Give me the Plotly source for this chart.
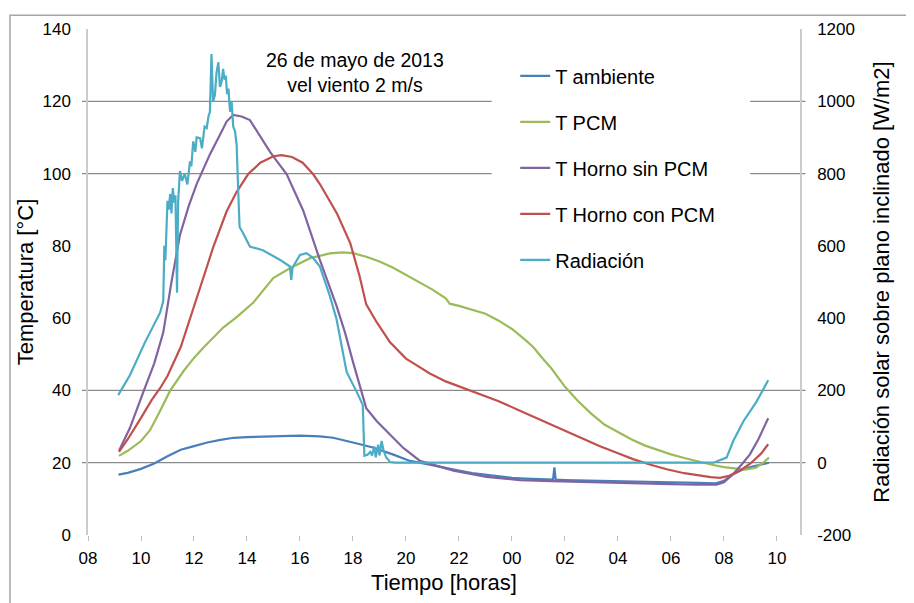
import plotly.graph_objects as go

# ---------------- data (hours since 00:00 of 26 May; >24 = next day) ----------------
amb_h = [9.15, 9.5, 10.0, 10.5, 11.0, 11.5, 12.0, 12.5, 13.0, 13.5, 14.0, 14.75, 15.5, 16.0,
         16.75, 17.25, 18.0, 18.75, 19.5, 20.15, 20.8, 21.4, 22.0, 22.5, 23.0, 23.5, 24.0, 24.5,
         25.0, 25.55, 25.6, 25.65, 26.0, 27.0, 28.0, 29.0, 30.0, 31.0, 31.7, 32.0, 32.3, 32.6,
         33.0, 33.4, 33.7]
amb_t = [16.7, 17.2, 18.3, 19.8, 21.8, 23.6, 24.6, 25.6, 26.3, 26.9, 27.1, 27.3, 27.4, 27.5,
         27.3, 26.9, 25.6, 24.2, 22.3, 20.5, 19.6, 18.6, 17.8, 17.1, 16.6, 16.2, 15.8, 15.6,
         15.4, 15.3, 18.7, 15.3, 15.2, 15.0, 15.0, 14.8, 14.6, 14.4, 14.3, 15.0, 16.6, 17.8,
         18.8, 19.5, 20.0]

pcm_h = [9.17, 9.5, 10.0, 10.34, 10.7, 11.09, 11.6, 12.0, 12.35, 12.7, 13.1, 13.6, 14.24, 14.99,
         15.62, 16.38, 17.13, 17.6, 18.0, 18.5, 19.0, 19.5, 20.0, 20.5, 21.0, 21.5, 21.65, 22.0,
         22.5, 23.0, 23.5, 24.0, 24.5, 24.8, 25.2, 25.5, 26.0, 26.5, 27.0, 27.5, 28.0, 28.5, 29.0,
         29.5, 30.0, 30.5, 31.0, 31.5, 32.0, 32.5, 32.8, 33.2, 33.45, 33.7]
pcm_t = [21.9, 23.3, 26.0, 29.0, 34.0, 39.8, 45.3, 49.0, 51.8, 54.5, 57.4, 60.2, 64.3, 71.1,
         73.8, 76.6, 77.9, 78.2, 78.0, 77.0, 75.7, 74.0, 72.0, 70.0, 67.9, 65.5, 64.0, 63.4,
         62.3, 61.2, 59.3, 57.0, 54.0, 52.0, 48.5, 46.0, 41.0, 37.0, 33.5, 30.5, 28.5, 26.5, 24.8,
         23.5, 22.3, 21.3, 20.3, 19.5, 18.8, 18.3, 18.1, 18.6, 19.8, 21.4]

sin_h = [9.17, 9.58, 10.09, 10.5, 10.84, 11.15, 11.47, 11.8, 12.1, 12.6, 13.0, 13.23, 13.48, 13.8,
         14.11, 14.6, 14.87, 15.12, 15.5, 16.12, 16.75, 17.38, 17.7, 18.0, 18.5, 18.9, 19.27,
         19.9, 20.53, 21.2, 21.79, 23.04, 24.3, 25.5, 27.0, 28.5, 30.0, 31.0, 31.72, 32.0, 32.35,
         32.7, 32.98, 33.3, 33.67]
sin_t = [23.3, 29.6, 39.6, 47.5, 56.0, 70.0, 83.0, 91.0, 97.1, 105.3, 111.0, 114.4, 116.2, 115.8,
         114.8, 108.9, 106.0, 103.5, 99.8, 89.8, 76.1, 63.4, 56.0, 47.9, 35.1, 31.5, 28.7,
         24.1, 20.5, 19.0, 17.8, 16.1, 15.2, 14.9, 14.7, 14.4, 14.1, 13.9, 13.9, 14.6, 16.9,
         19.8, 22.3, 26.5, 32.3]

con_h = [9.17, 9.5, 10.0, 10.4, 10.72, 11.0, 11.5, 11.85, 12.2, 12.5, 12.72, 13.0, 13.23, 13.6,
         14.04, 14.5, 15.0, 15.3, 15.7, 16.1, 16.5, 16.75, 17.0, 17.4, 17.9, 18.25, 18.5, 18.9,
         19.4, 20.0, 20.5, 20.9, 21.5, 22.4, 23.5, 24.3, 24.8, 25.5, 26.06, 26.7, 27.3, 28.0,
         28.57, 29.2, 29.84, 30.5, 31.1, 31.5, 31.85, 32.2, 32.6, 33.0, 33.4, 33.67]
con_t = [23.0, 26.5, 32.4, 37.3, 40.6, 44.0, 52.0, 59.7, 67.5, 74.5, 79.5, 85.0, 89.5, 94.8,
         99.8, 103.0, 104.8, 105.1, 104.6, 103.0, 99.8, 97.1, 94.0, 88.9, 80.7, 71.6, 63.8, 58.8,
         53.3, 48.8, 46.5, 44.7, 42.5, 40.1, 37.0, 34.4, 32.8, 30.4, 28.7, 26.6, 24.6, 22.6,
         21.0, 19.5, 18.2, 17.1, 16.4, 16.0, 15.8, 16.4, 17.8, 19.8, 22.5, 25.1]

rad_h = [9.14, 9.58, 10.15, 10.72, 10.84, 10.88, 10.92, 10.97, 11.0, 11.05, 11.1, 11.15, 11.2,
         11.25, 11.3, 11.36, 11.4, 11.47, 11.55, 11.65, 11.75, 11.85, 11.9, 11.97, 12.05, 12.1,
         12.23, 12.3, 12.4, 12.48, 12.55, 12.6, 12.66, 12.72, 12.79, 12.85, 12.92, 12.98, 13.04,
         13.1, 13.15, 13.2, 13.25, 13.3, 13.36, 13.42, 13.48, 13.55, 13.61, 13.66, 13.72, 13.86,
         14.11, 14.6, 15.25, 15.62, 15.67, 15.72, 16.0, 16.25, 16.5, 16.75, 16.88, 17.13, 17.38,
         17.76, 18.14, 18.37, 18.43, 18.55, 18.65, 18.72, 18.8, 18.86, 18.95, 19.0, 19.08, 19.15,
         19.25, 19.4, 19.6, 31.6, 32.1, 32.35, 32.73, 33.23, 33.67]
rad_w = [187, 242, 333, 415, 447, 600, 560, 690, 725, 700, 743, 690, 760,
         720, 740, 470, 720, 807, 780, 800, 770, 834, 820, 889, 860, 900,
         898, 870, 930, 926, 960, 970, 1131, 1000, 1017, 1080, 1108, 1040, 1053,
         1090, 1060, 1071, 1020, 1035, 971, 1000, 930, 917, 880, 771, 652, 634,
         598, 588, 561, 543, 506, 540, 575, 580, 566, 543, 516, 461, 397,
         251, 196, 160, 19, 22, 30, 20, 45, 15, 50, 20, 60, 35,
         15, 2, 0, 0, 14, 60, 114, 169, 228]

x_ticks = [8, 10, 12, 14, 16, 18, 20, 22, 24, 26, 28, 30, 32, 34]
x_labels = ["08", "10", "12", "14", "16", "18", "20", "22", "00", "02", "04", "06", "08", "10"]
y2_ticks = [-200, 0, 200, 400, 600, 800, 1000, 1200]
y2_labels = ["-200", "0", "200", "400", "600", "800", "1000", "1200"]
grid_full = [20, 40]
grid_split = [100, 120]

# ---------------- figure ----------------
FONT = "Liberation Sans, Arial, sans-serif"
fig = go.Figure()
series = [
    ("T ambiente", amb_h, amb_t, "#4A7EBB", "y"),
    ("T PCM", pcm_h, pcm_t, "#9BBB59", "y"),
    ("T Horno sin PCM", sin_h, sin_t, "#8064A2", "y"),
    ("T Horno con PCM", con_h, con_t, "#C0504D", "y"),
    ("Radiación", rad_h, rad_w, "#4BACC6", "y2"),
]
for name, xs, ys, col, ax in series:
    fig.add_trace(go.Scatter(x=xs, y=ys, name=name, mode="lines", yaxis=ax,
                             legendgroup=name,
                             line=dict(color=col, width=2.2)))

shapes = []
for v in grid_full:
    shapes.append(dict(type="line", xref="paper", yref="y", x0=-0.0084, x1=1.0077, y0=v, y1=v,
                       line=dict(color="#8a8a8a", width=1.2), layer="below"))
for v in grid_split:
    shapes.append(dict(type="line", xref="paper", yref="y", x0=-0.0084, x1=0.567, y0=v, y1=v,
                       line=dict(color="#8a8a8a", width=1.2), layer="below"))
    shapes.append(dict(type="line", xref="paper", yref="y", x0=0.93, x1=1.0077, y0=v, y1=v,
                       line=dict(color="#8a8a8a", width=1.2), layer="below"))
# outer chart frame
shapes.append(dict(type="rect", xref="paper", yref="paper", x0=-0.1096, x1=1.2, y0=-0.2, y1=1.0273,
                   line=dict(color="#a6a6a6", width=1.5), fillcolor="rgba(0,0,0,0)", layer="below"))

fig.update_layout(
    width=906, height=595,
    margin=dict(l=80, r=114, t=15, b=68),
    paper_bgcolor="white", plot_bgcolor="white",
    font=dict(family=FONT, color="#000000", size=17),
    shapes=shapes,
    xaxis=dict(range=[8, 34.87], tickmode="array", tickvals=x_ticks, ticktext=x_labels,
               ticks="outside", ticklen=5, tickcolor="#bfbfbf", tickwidth=1.2,
               showgrid=False, zeroline=False, showline=False,
               tickfont=dict(size=17), ticklabelstandoff=3,
               title=dict(text="Tiempo [horas]", font=dict(size=22), standoff=7)),
    yaxis=dict(range=[0, 140], tickmode="linear", tick0=0, dtick=20,
               showgrid=False, zeroline=False, showline=True, linecolor="#cccccc", linewidth=1.5,
               ticks="", tickfont=dict(size=17), ticklabelstandoff=12,
               title=dict(text="Temperatura [°C]", font=dict(size=22), standoff=3)),
    yaxis2=dict(range=[-200, 1200], tickmode="array", tickvals=y2_ticks, ticktext=y2_labels,
                overlaying="y", side="right",
                showgrid=False, zeroline=False, showline=True, linecolor="#cccccc", linewidth=1.5,
                ticks="", tickfont=dict(size=17), ticklabelstandoff=12,
                title=dict(text="Radiación solar sobre plano inclinado [W/m2]", font=dict(size=22), standoff=20)),
    legend=dict(x=0.6, y=0.946, xanchor="left", yanchor="top", font=dict(size=20),
                bgcolor="rgba(0,0,0,0)", tracegroupgap=17, itemwidth=30),
    showlegend=True,
    annotations=[dict(text="26 de mayo de 2013<br>vel viento 2 m/s", xref="paper", yref="paper",
                      x=0.375, y=0.915, xanchor="center", yanchor="middle", showarrow=False,
                      font=dict(size=19.5))],
)

fig.write_html("out.html")
